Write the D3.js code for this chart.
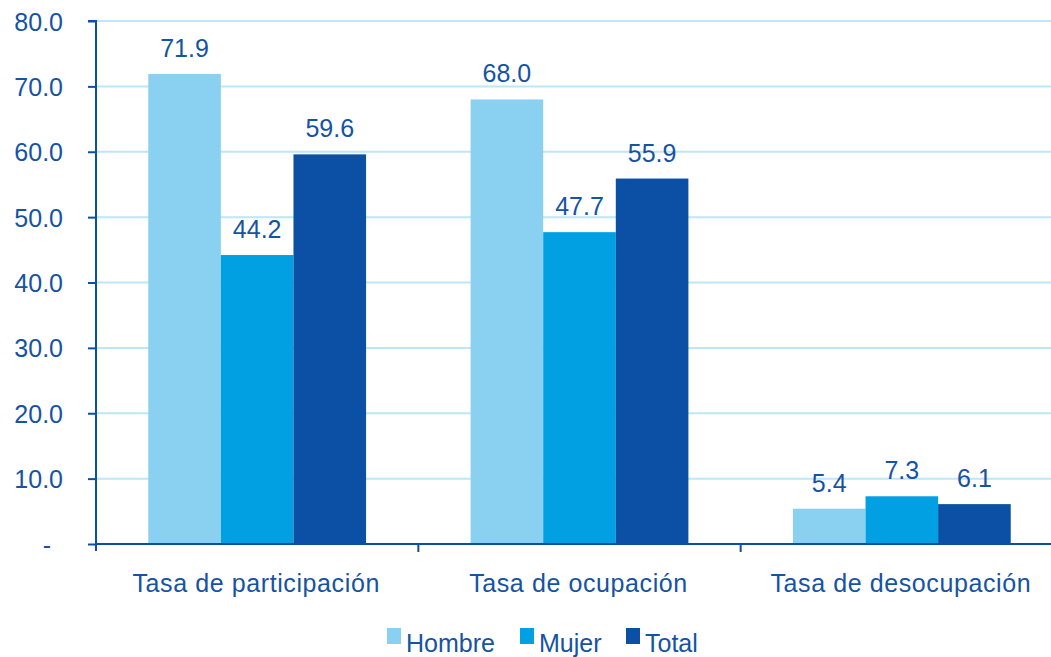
<!DOCTYPE html>
<html>
<head>
<meta charset="utf-8">
<script src="https://cdn.jsdelivr.net/npm/d3@7.9.0/dist/d3.min.js"></script>
<style>
  body { margin: 0; background: #fff; }
  text { font-family: "Liberation Sans", Arial, sans-serif; fill: #1553a3; }
</style>
</head>
<body>
<svg id="chart" width="1051" height="657"></svg>
<script>
const categories = ['Tasa de participación', 'Tasa de ocupación', 'Tasa de desocupación'];
const seriesNames = ['Hombre', 'Mujer', 'Total'];
const hombre = [71.9, 68.0, 5.4];
const mujer = [44.2, 47.7, 7.3];
const total = [59.6, 55.9, 6.1];
const yTicks = [0, 10, 20, 30, 40, 50, 60, 70, 80];

const colors = d3.scaleOrdinal(seriesNames, ['#8ad1f1', '#00a0e3', '#0b50a4']);
const seriesValues = [hombre, mujer, total];

const svg = d3.select('#chart');
const mLeft = 96, mRight = 1063, mTop = 21, mBottom = 544;
const fs = 25;

const y = d3.scaleLinear().domain([0, 80]).range([mBottom, mTop]);
const x0 = d3.scaleBand().domain(categories).range([mLeft, mRight]).padding(0);
const x1 = d3.scaleBand().domain(seriesNames).range([0, x0.bandwidth()]).paddingOuter(0.72).paddingInner(0);

// gridlines
svg.append('g')
  .selectAll('line')
  .data(yTicks.filter(d => d > 0))
  .enter()
  .append('line')
  .attr('x1', mLeft).attr('x2', 1051)
  .attr('y1', d => y(d)).attr('y2', d => y(d))
  .attr('stroke', '#bde6f7').attr('stroke-width', 2);

// bars
const groups = svg.append('g')
  .selectAll('g')
  .data(categories)
  .enter()
  .append('g')
  .attr('transform', d => `translate(${x0(d)},0)`);

groups.selectAll('rect')
  .data((c, i) => seriesNames.map((s, j) => ({ s, v: seriesValues[j][i] })))
  .enter()
  .append('rect')
  .attr('x', d => x1(d.s))
  .attr('width', x1.bandwidth())
  .attr('y', d => y(d.v))
  .attr('height', d => mBottom - y(d.v))
  .attr('fill', d => colors(d.s));

groups.selectAll('text')
  .data((c, i) => seriesNames.map((s, j) => ({ s, v: seriesValues[j][i] })))
  .enter()
  .append('text')
  .attr('x', d => x1(d.s) + x1.bandwidth() / 2)
  .attr('y', d => y(d.v) - 17)
  .attr('text-anchor', 'middle')
  .attr('font-size', fs)
  .text(d => d.v.toFixed(1));

// y axis
const yAxis = svg.append('g')
  .attr('transform', `translate(${mLeft},0)`)
  .call(d3.axisLeft(y).tickValues(yTicks).tickSize(8).tickPadding(25)
    .tickFormat(d => d === 0 ? '-' : d.toFixed(1)));
yAxis.select('.domain').attr('stroke', '#0b50a4').attr('stroke-width', 2).attr('d', `M-8,${mTop}H0V${mBottom + 7}`);
yAxis.selectAll('.tick line').attr('stroke', '#0b50a4').attr('stroke-width', 2);
yAxis.selectAll('.tick text').attr('font-size', fs).attr('fill', '#1553a3').attr('dy', '0.36em')
  .attr('font-family', '"Liberation Sans", Arial, sans-serif')
  .attr('dx', d => d === 0 ? -12 : 0);

// x axis
const xAxis = svg.append('g')
  .attr('transform', `translate(0,${mBottom})`);
xAxis.append('line')
  .attr('x1', mLeft).attr('x2', 1051)
  .attr('stroke', '#0b50a4').attr('stroke-width', 2);
xAxis.selectAll('.sep')
  .data(categories.slice(1))
  .enter()
  .append('line')
  .attr('x1', d => x0(d)).attr('x2', d => x0(d))
  .attr('y1', 0).attr('y2', 8)
  .attr('stroke', '#0b50a4').attr('stroke-width', 2);
xAxis.selectAll('.cat')
  .data(categories)
  .enter()
  .append('text')
  .attr('x', d => x0(d) + x0.bandwidth() / 2 - 1)
  .attr('y', 48)
  .attr('text-anchor', 'middle')
  .attr('font-size', fs)
  .attr('letter-spacing', 0.6)
  .text(d => d);

// legend
const legendX = [387, 520, 626];
const legend = svg.append('g')
  .selectAll('g')
  .data(seriesNames)
  .enter()
  .append('g')
  .attr('transform', (d, i) => `translate(${legendX[i]},628)`);
legend.append('rect')
  .attr('width', 14).attr('height', 16)
  .attr('fill', d => colors(d));
legend.append('text')
  .attr('x', 19).attr('y', 24)
  .attr('font-size', fs)
  .text(d => d);
</script>
</body>
</html>
